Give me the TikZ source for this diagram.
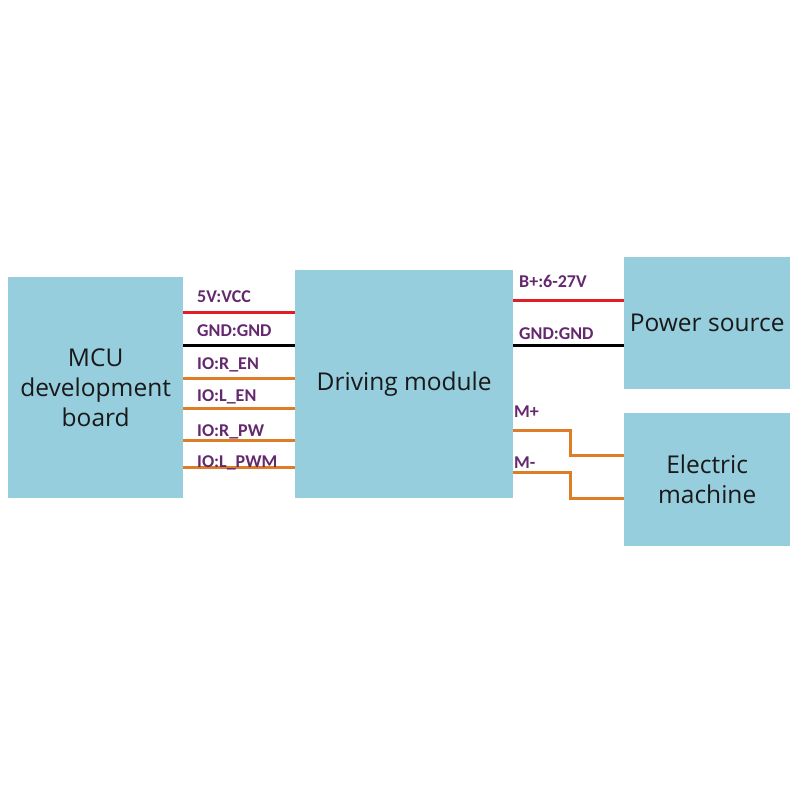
\documentclass[tikz,border=0pt]{standalone}
\usepackage{fontspec}
\setmainfont{Open Sans}
\newfontfamily\lblfont{Carlito}
\definecolor{boxfill}{RGB}{150,206,221}
\definecolor{lblcol}{RGB}{100,40,110}
\definecolor{redw}{RGB}{225,30,35}
\definecolor{orw}{RGB}{222,125,40}
\begin{document}
\begin{tikzpicture}[x=1pt,y=-1pt,
  blk/.style={draw=none,fill=boxfill,anchor=north west,inner sep=0pt,align=center,
    font=\fontsize{24.5}{30}\selectfont,text=black!90},
  lbl/.style={anchor=base west,inner sep=0pt,text=lblcol,font=\lblfont\bfseries\fontsize{18}{18}\selectfont},
  wire/.style={line width=3pt},
  ]
\useasboundingbox (0,0) rectangle (800,800);
\node[blk,minimum width=175pt,minimum height=221pt] (mcu) at (8,277) {MCU\\development\\board};
\node[blk,minimum width=218pt,minimum height=228pt] (drv) at (295,270) {Driving module};
\node[blk,minimum width=166pt,minimum height=132pt] (pwr) at (624,257) {Power source};
\node[blk,minimum width=166pt,minimum height=133pt] (mot) at (624,413) {Electric\\machine};
% left wires
\draw[wire,redw] (mcu.east |- 0,312) -- (drv.west |- 0,312);
\draw[wire,black] (mcu.east |- 0,345) -- (drv.west |- 0,345);
\draw[wire,orw] (mcu.east |- 0,378) -- (drv.west |- 0,378);
\draw[wire,orw] (mcu.east |- 0,408) -- (drv.west |- 0,408);
\draw[wire,orw] (mcu.east |- 0,440) -- (drv.west |- 0,440);
\draw[wire,orw] (mcu.east |- 0,467) -- (drv.west |- 0,467);
\node[lbl] (l1) at (197,302) {5V:VCC};
\node[lbl] (l2) at (197,336) {GND:GND};
\node[lbl] (l3) at (197,369) {IO:R\_EN};
\node[lbl] (l4) at (197,401) {IO:L\_EN};
\node[lbl] (l5) at (197,436) {IO:R\_PW};
\node[lbl] (l6) at (197,467) {IO:L\_PWM};
% right wires
\draw[wire,redw] (drv.east |- 0,300) -- (pwr.west |- 0,300);
\draw[wire,black] (drv.east |- 0,345) -- (pwr.west |- 0,345);
\draw[wire,orw] (drv.east |- 0,430) -- (570,430) -- (570,455) -- (mot.west |- 0,455);
\draw[wire,orw] (drv.east |- 0,472) -- (570,472) -- (570,498) -- (mot.west |- 0,498);
\node[lbl] (r1) at (519,287) {B+:6-27V};
\node[lbl] (r2) at (519,339) {GND:GND};
\node[lbl] (r3) at (514,417) {M+};
\node[lbl] (r4) at (514,468) {M-};
\end{tikzpicture}
\end{document}
